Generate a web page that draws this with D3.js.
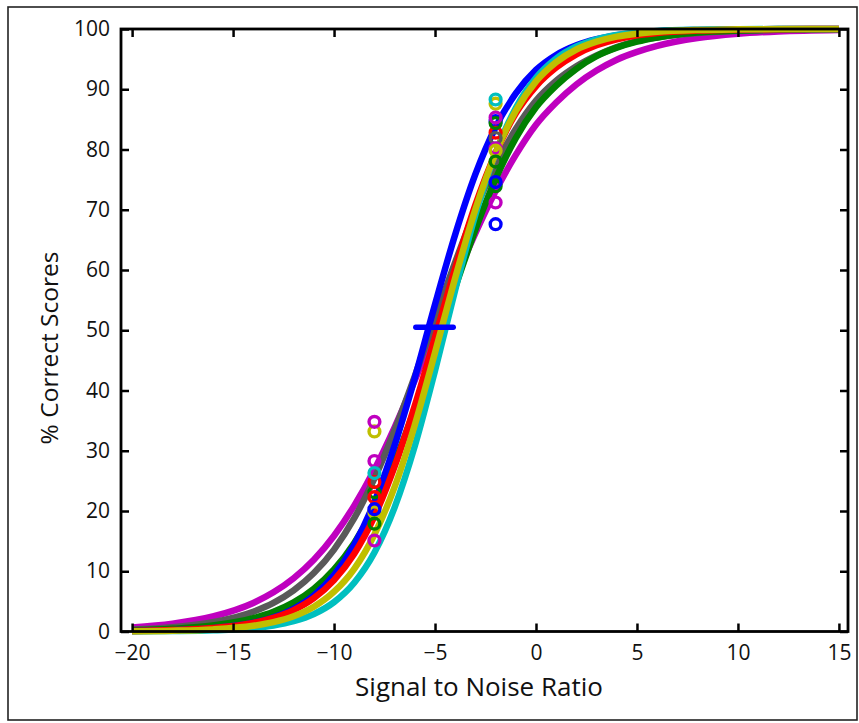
<!DOCTYPE html>
<html>
<head>
<meta charset="utf-8">
<script src="https://cdn.jsdelivr.net/npm/d3@7"></script>
<style>
  html, body { margin: 0; padding: 0; background: #fff; }
  svg { display: block; }
  text { font-family: "Open Sans", "Noto Sans", sans-serif; fill: #111; }
</style>
</head>
<body>
<svg id="chart" width="859" height="723"></svg>
<script>
// ---- data ----
const xGrid = [-20,-18,-16,-14,-13,-12,-11,-10,-9,-8,-7,-6,-5,-4,-3,-2,-1,0,1,2,3,4,5,6,8,10,12,15];

const curveMagenta = [0.67,1.30,2.49,4.74,6.50,8.84,11.9,15.9,20.9,26.9,33.9,41.7,50.0,58.3,66.1,73.1,79.1,84.1,87.8,90.8,93.1,94.9,96.2,97.2,98.5,99.2,99.6,99.85];
const curveGray    = [0.34,0.72,1.55,3.28,4.74,6.82,9.70,13.6,18.8,25.4,33.4,42.4,51.9,61.3,70.0,77.4,83.4,88.1,91.4,93.8,95.6,97.0,98.0,98.6,99.35,99.7,99.87,99.96];
const curveGreen   = [0.19,0.44,0.98,2.20,3.27,4.83,7.10,10.3,14.7,20.6,28.1,37.0,46.9,57.1,66.7,75.1,81.9,87.0,90.6,93.4,95.5,96.9,97.9,98.6,99.4,99.73,99.88,99.97];
const curveBlue    = [0.08,0.21,0.55,1.45,2.34,3.76,5.97,9.38,14.4,21.5,30.9,42.1,54.3,65.9,75.9,83.7,89.3,93.2,95.7,97.3,98.3,98.97,99.36,99.61,99.85,99.94,99.98,99.99];
const curveCyan    = [0.02,0.07,0.20,0.58,1.00,1.71,2.89,4.87,8.08,13.1,20.6,30.8,43.3,56.7,69.2,79.4,86.9,91.9,95.1,97.1,98.29,99.0,99.41,99.66,99.88,99.96,99.99,100.0];
const curveRed     = [0.09,0.23,0.57,1.43,2.26,3.55,5.53,8.53,12.9,19.1,27.4,37.5,48.8,60.3,70.8,79.4,86.0,90.5,93.6,95.8,97.3,98.3,98.95,99.35,99.74,99.90,99.96,99.99];
const curveYellow  = [0.05,0.13,0.35,0.95,1.55,2.53,4.11,6.60,10.4,16.1,24.0,34.3,46.3,58.7,70.1,79.4,86.4,91.3,94.5,96.6,97.9,98.73,99.22,99.53,99.83,99.94,99.98,99.99];

const curveNames  = ["magenta","gray","green","blue","cyan","red","yellow"];
const curveValues = [curveMagenta, curveGray, curveGreen, curveBlue, curveCyan, curveRed, curveYellow];

// scores measured at -8 dB and -2 dB
const pointX     = [-8,-8,-8,-8,-8,-8,-8,-8,-8,-8,-8, -2,-2,-2,-2,-2,-2,-2,-2,-2,-2,-2,-2,-2,-2];
const pointY     = [33.2,34.8,28.3,23.1,22.3,24.8,26.3,19.8,20.3,17.9,15.1, 84.7,82.8,81.9,80.2,79.8,87.6,88.3,84.4,85.3,78.0,73.9,74.6,71.2,67.6];
const pointColor = ["yellow","magenta","magenta","green","red","red","cyan","yellow","blue","green","magenta",
                    "blue","red","gray","magenta","yellow","yellow","cyan","green","magenta","green","green","blue","magenta","blue"];

// mean threshold (50 %) with its spread
const thresholdLow  = -5.95;
const thresholdHigh = -4.1;
const thresholdLevel = 50.5;

const xTicks = [-20,-15,-10,-5,0,5,10,15];
const yTicks = [0,10,20,30,40,50,60,70,80,90,100];
const xTitle = "Signal to Noise Ratio";
const yTitle = "% Correct Scores";

// ---- styling ----
const colors = {
  blue: "#0000ff", green: "#008000", red: "#ff0000", cyan: "#00bfbf",
  magenta: "#bf00bf", yellow: "#bfbf00", gray: "#595959"
};

const svg = d3.select("#chart");
const L = 121, R = 848, T = 29, B = 631.5;

const x = d3.scaleLinear().domain([-20.55, 15.45]).range([L, R]);
const y = d3.scaleLinear().domain([0, 100]).range([B, T]);

// outer figure frame
svg.append("rect").attr("x", 8).attr("y", 7).attr("width", 849).attr("height", 713)
  .attr("fill", "none").attr("stroke", "#222").attr("stroke-width", 1.6);

// curves
const line = d3.line().x((d, i) => x(xGrid[i])).y(d => y(d)).curve(d3.curveMonotoneX);
const gCurves = svg.append("g");
curveValues.forEach((vals, k) => {
  gCurves.append("path").datum(vals)
    .attr("d", line)
    .attr("fill", "none")
    .attr("stroke", colors[curveNames[k]])
    .attr("stroke-width", 6.5)
    .attr("stroke-linejoin", "round");
});

// data points (rings)
svg.append("g").selectAll("circle").data(pointY).join("circle")
  .attr("cx", (d, i) => x(pointX[i]))
  .attr("cy", d => y(d))
  .attr("r", 5.4)
  .attr("fill", "none")
  .attr("stroke", (d, i) => colors[pointColor[i]])
  .attr("stroke-width", 3.4);

// threshold bar
svg.append("line")
  .attr("x1", x(thresholdLow)).attr("x2", x(thresholdHigh))
  .attr("y1", y(thresholdLevel)).attr("y2", y(thresholdLevel))
  .attr("stroke", colors.blue).attr("stroke-width", 5.5).attr("stroke-linecap", "round");

// axes (box with inward ticks on all sides)
const tickLen = 8;
const gAx = svg.append("g");
const axisBottom = d3.axisBottom(x).tickValues(xTicks).tickSize(-tickLen).tickPadding(14)
  .tickFormat(d => d < 0 ? "\u2212" + Math.abs(d) : String(d));
const axisTop = d3.axisTop(x).tickValues(xTicks).tickSize(-tickLen).tickFormat("");
const axisLeft = d3.axisLeft(y).tickValues(yTicks).tickSize(-tickLen).tickPadding(11);
const axisRight = d3.axisRight(y).tickValues(yTicks).tickSize(-tickLen).tickFormat("");

function styleAxis(g) {
  g.select(".domain").remove();
  g.selectAll(".tick line").attr("stroke", "#000").attr("stroke-width", 2.5);
  g.selectAll(".tick text").attr("font-size", 21).attr("fill", "#111")
    .style("font-family", '"Open Sans", "Noto Sans", sans-serif');
}
gAx.append("g").attr("transform", `translate(0,${B})`).call(axisBottom).call(styleAxis);
gAx.append("g").attr("transform", `translate(0,${T})`).call(axisTop).call(styleAxis);
gAx.append("g").attr("transform", `translate(${L},0)`).call(axisLeft).call(styleAxis);
gAx.append("g").attr("transform", `translate(${R},0)`).call(axisRight).call(styleAxis);

svg.append("rect").attr("x", L).attr("y", T).attr("width", R - L).attr("height", B - T)
  .attr("fill", "none").attr("stroke", "#000").attr("stroke-width", 2.8);

// titles
svg.append("text").attr("x", 479).attr("y", 696)
  .attr("text-anchor", "middle").attr("font-size", 26).text(xTitle);
svg.append("text").attr("transform", `translate(58,348) rotate(-90)`)
  .attr("text-anchor", "middle").attr("font-size", 24.5).text(yTitle);
</script>
</body>
</html>
